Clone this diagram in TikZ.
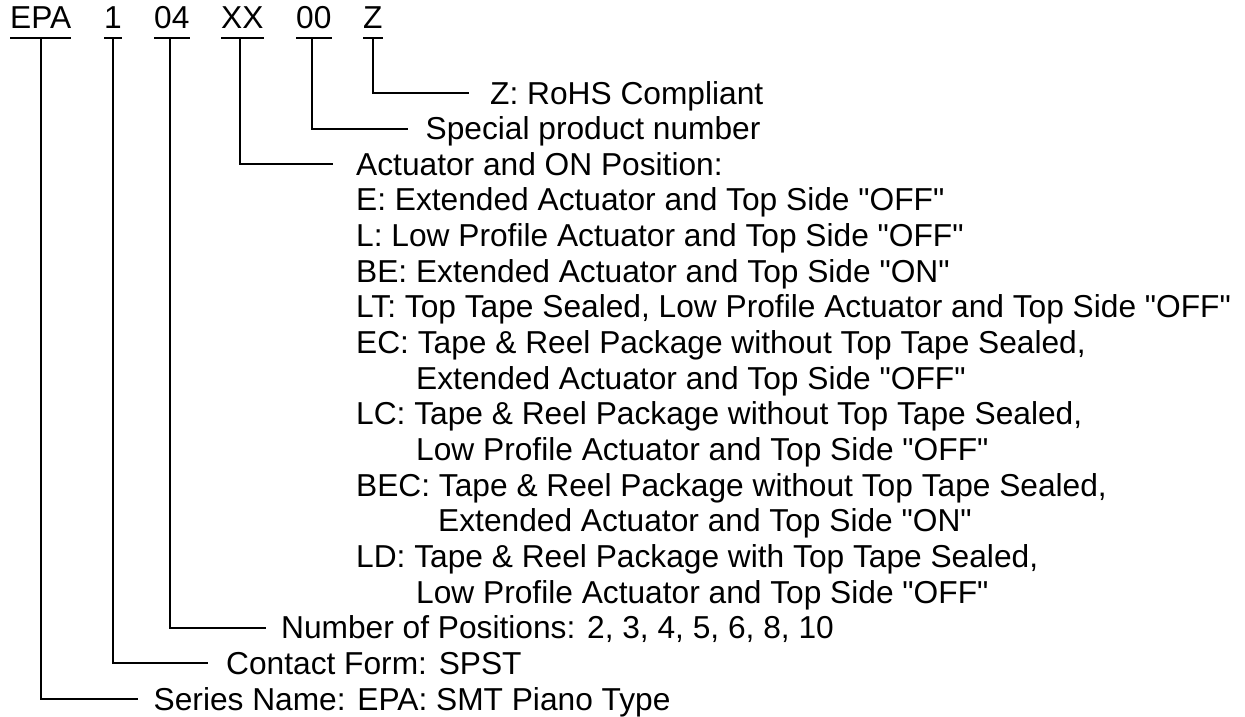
\documentclass[tikz,border=0pt]{standalone}
\usepackage{fontspec}
\setmainfont{Liberation Sans}[Ligatures=TeXOff]
\begin{document}
\begin{tikzpicture}[x=1pt,y=-1pt,
  code/.style={anchor=base west,inner sep=0pt,font=\fontsize{31.7}{35.65}\selectfont},
  lbl/.style={anchor=base west,inner sep=0pt,font=\fontsize{31.7}{35.65}\selectfont},
  conn/.style={line width=2pt},
  uline/.style={line width=2.6pt}]
\useasboundingbox (0,0) rectangle (1245,717);
% part-number codes
\node[code] (cEPA) at (10,29) {EPA};
\node[code] (c1)   at (104,29) {1};
\node[code] (c04)  at (154,29) {04};
\node[code] (cXX)  at (221,29) {XX};
\node[code] (c00)  at (296,29) {00};
\node[code] (cZ)   at (363,29) {Z};
\foreach \n in {cEPA,c1,c04,cXX,c00,cZ}
  \draw[uline] ([yshift=-9pt]\n.base west) -- ([yshift=-9pt]\n.base east);
% labels
\node[lbl] (lZ)   at (490,104) {Z: RoHS Compliant};
\node[lbl] (l00)  at (425.5,139.65) {Special product number};
\node[lbl] (lXX)  at (356,175.3) {Actuator and ON Position:};
\node[lbl] (lE)   at (356,210.95) {E: Extended Actuator and Top Side "OFF"};
\node[lbl] (lL)   at (356,246.6) {L: Low Profile Actuator and Top Side "OFF"};
\node[lbl] (lBE)  at (356,282.25) {BE: Extended Actuator and Top Side "ON"};
\node[lbl] (lLT)  at (356,317.9) {LT: Top Tape Sealed, Low Profile Actuator and Top Side "OFF"};
\node[lbl] (lEC)  at (356,353.55) {EC: Tape \& Reel Package without Top Tape Sealed,};
\node[lbl] (lECb) at (416,389.2) {Extended Actuator and Top Side "OFF"};
\node[lbl] (lLC)  at (356,424.85) {LC: Tape \& Reel Package without Top Tape Sealed,};
\node[lbl] (lLCb) at (416,460.5) {Low Profile Actuator and Top Side "OFF"};
\node[lbl] (lBEC) at (356,496.15) {BEC: Tape \& Reel Package without Top Tape Sealed,};
\node[lbl] (lBECb) at (438,531.8) {Extended Actuator and Top Side "ON"};
\node[lbl] (lLD)  at (356,567.45) {LD: Tape \& Reel Package with Top Tape Sealed,};
\node[lbl] (lLDb) at (416,603.1) {Low Profile Actuator and Top Side "OFF"};
\node[lbl] (l04)  at (281,638.75) {Number of Positions: 2, 3, 4, 5, 6, 8, 10};
\node[lbl] (l1)   at (226,674.4) {Contact Form: SPST};
\node[lbl] (lEPA) at (153.5,710.05) {Series Name: EPA: SMT Piano Type};
% connector ends
\coordinate (eZ)   at (469,93);
\coordinate (e00)  at (408,128.65);
\coordinate (eXX)  at (333,164.3);
\coordinate (e04)  at (266,627.75);
\coordinate (e1)   at (208,663.4);
\coordinate (eEPA) at (138,699.05);
% connectors
\draw[conn] ([yshift=-9pt]cZ.base) |- (eZ);
\draw[conn] ([xshift=-1.5pt,yshift=-9pt]c00.base) |- (e00);
\draw[conn] ([xshift=-2pt,yshift=-9pt]cXX.base) |- (eXX);
\draw[conn] ([xshift=-2pt,yshift=-9pt]c04.base) |- (e04);
\draw[conn] ([yshift=-9pt]c1.base) |- (e1);
\draw[conn] ([yshift=-9pt]cEPA.base) |- (eEPA);
\end{tikzpicture}
\end{document}
